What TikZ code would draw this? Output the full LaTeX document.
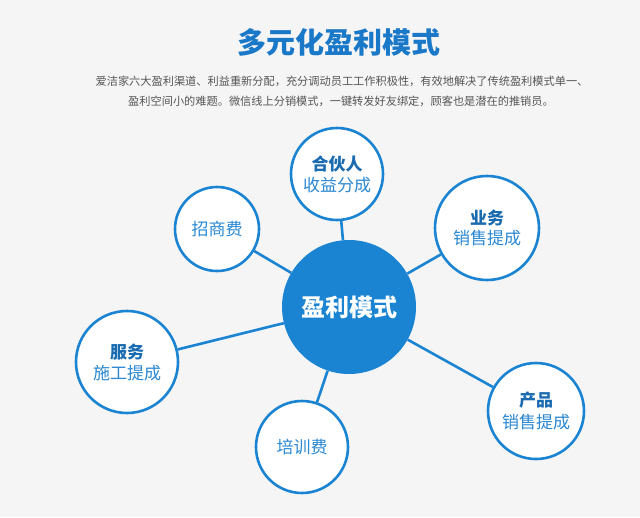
\documentclass[tikz,border=0pt]{standalone}
\usepackage{fontspec}
\setmainfont{Noto Sans CJK SC}
\definecolor{bgc}{HTML}{F5F5F5}
\definecolor{mainblue}{HTML}{1B84D2}
\definecolor{titleblue}{HTML}{1A78C8}
\definecolor{darkblue}{HTML}{1A6BB0}
\definecolor{lightblue}{HTML}{2A88D2}
\definecolor{bodygray}{HTML}{555555}
\tikzset{
  sat/.style={circle, draw=mainblue, line width=2.6pt, fill=white, inner sep=0pt, align=center},
  hub/.style={circle, fill=mainblue, inner sep=0pt, minimum size=134pt, text=white, font=\fontsize{24}{28}\selectfont\bfseries},
  link/.style={draw=mainblue, line width=2.6pt},
}
\newcommand{\toplab}[1]{{\fontsize{17}{20}\selectfont\bfseries\color{darkblue}#1}}
\newcommand{\botlab}[1]{{\fontsize{17}{20}\selectfont\color{lightblue}#1}}
\begin{document}
\begin{tikzpicture}[x=1pt,y=-1pt]
\fill[bgc] (0,0) rectangle (640,517);
\useasboundingbox (0,0) rectangle (640,517);
\node[text=titleblue, font=\fontsize{29}{32}\selectfont\bfseries] (title) at (339,42) {多元化盈利模式};
\node[text=bodygray, font=\fontsize{11.2}{14}\selectfont, inner sep=0pt] (p1) at (342,81) {爱洁家六大盈利渠道、利益重新分配，充分调动员工工作积极性，有效地解决了传统盈利模式单一、};
\node[text=bodygray, font=\fontsize{11.2}{14}\selectfont, inner sep=0pt] (p2) at (341,101) {盈利空间小的难题。微信线上分销模式，一键转发好友绑定，顾客也是潜在的推销员。};

\node[hub] (c) at (349,307) {盈利模式};
\node[sat, minimum size=92pt] (s1) at (337,174) {\toplab{合伙人}\\[4pt]\botlab{收益分成}};
\node[sat, minimum size=84pt] (s2) at (217,229) {\botlab{招商费}};
\node[sat, minimum size=104pt] (s3) at (487,228) {\toplab{业务}\\[4pt]\botlab{销售提成}};
\node[sat, minimum size=102pt] (s4) at (127,362) {\toplab{服务}\\[4pt]\botlab{施工提成}};
\node[sat, minimum size=96pt] (s5) at (536,411) {\toplab{产品}\\[4pt]\botlab{销售提成}};
\node[sat, minimum size=92pt] (s6) at (302,447) {\botlab{培训费}};

\foreach \s in {s1,s2,s3,s4,s5,s6} \draw[link] (c) -- (\s);
\end{tikzpicture}
\end{document}
